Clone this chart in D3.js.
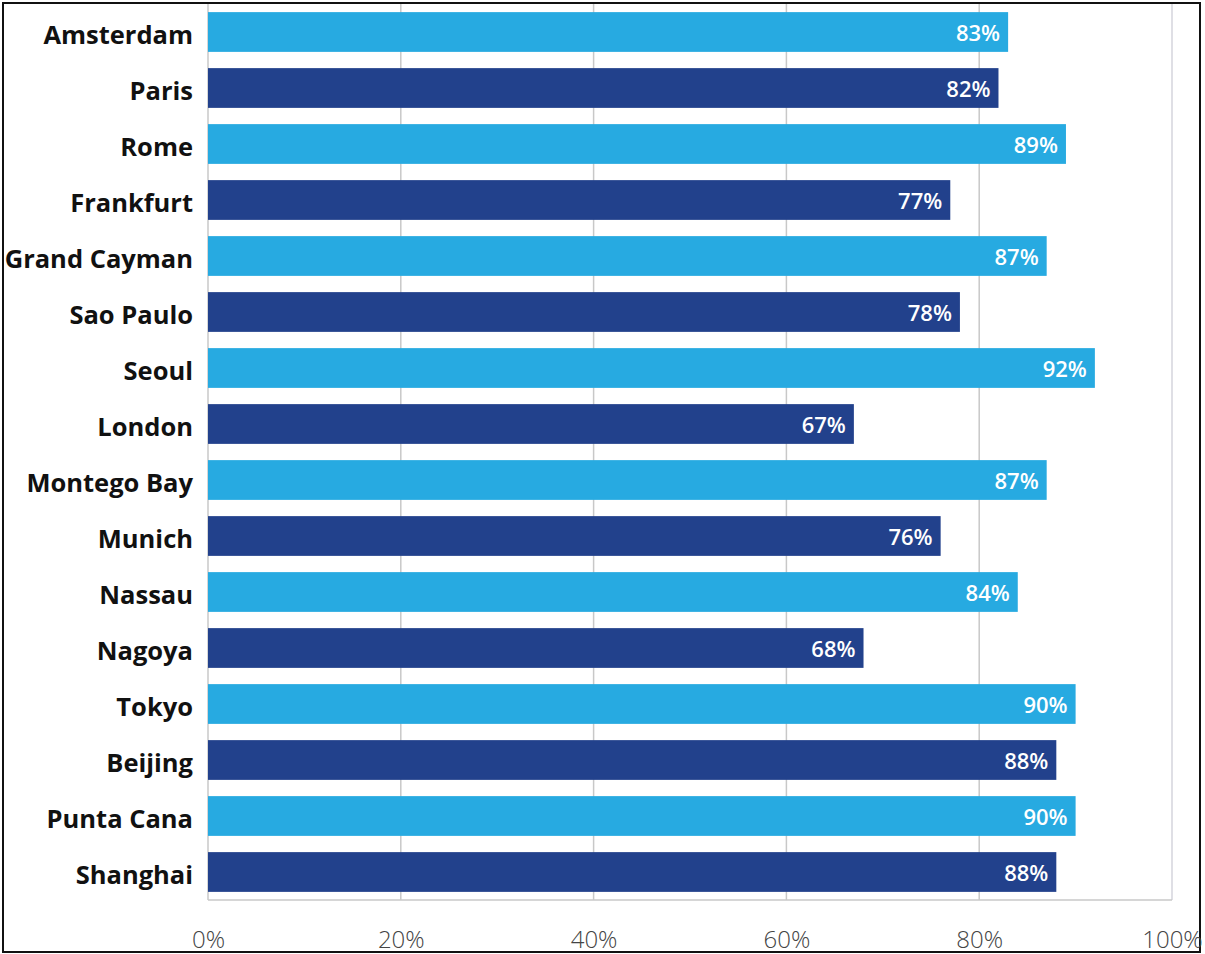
<!DOCTYPE html>
<html>
<head>
<meta charset="utf-8">
<script src="https://cdn.jsdelivr.net/npm/d3@7"></script>
<style>
  html, body { margin: 0; padding: 0; background: #fff; }
  svg { display: block; }
</style>
</head>
<body>
<svg id="chart" width="1205" height="954"></svg>
<script>
// Share of respondents per city
const cities = ["Amsterdam", "Paris", "Rome", "Frankfurt", "Grand Cayman", "Sao Paulo",
  "Seoul", "London", "Montego Bay", "Munich", "Nassau", "Nagoya", "Tokyo", "Beijing",
  "Punta Cana", "Shanghai"];
const values = [83, 82, 89, 77, 87, 78, 92, 67, 87, 76, 84, 68, 90, 88, 90, 88];
const xTicks = [0, 20, 40, 60, 80, 100];
const palette = ["#27aae1", "#22418c"];

const svg = d3.select("#chart");
const W = 1205, H = 954;
const margin = { top: 4, right: 33, bottom: 54, left: 208 };
const FONT = "'Open Sans', sans-serif";

// outer frame
svg.append("rect")
  .attr("x", 3).attr("y", 3)
  .attr("width", 1197).attr("height", 949)
  .attr("fill", "none").attr("stroke", "#111").attr("stroke-width", 2);

const x = d3.scaleLinear().domain([0, 100]).range([margin.left, W - margin.right]);
const y = d3.scaleBand().domain(cities).range([margin.top, H - margin.bottom]).paddingInner(0.29).paddingOuter(0.145);

// vertical gridlines
svg.append("g").selectAll("line").data(xTicks).join("line")
  .attr("x1", d => x(d)).attr("x2", d => x(d))
  .attr("y1", margin.top).attr("y2", H - margin.bottom)
  .attr("stroke", d => d === 100 ? "#d4d4dc" : "#c8c8c8")
  .attr("stroke-width", 1.5);

// bottom baseline
svg.append("line")
  .attr("x1", x(0)).attr("x2", x(100))
  .attr("y1", H - margin.bottom).attr("y2", H - margin.bottom)
  .attr("stroke", "#c8c8c8").attr("stroke-width", 1.5);

// bars
svg.append("g").selectAll("rect").data(cities).join("rect")
  .attr("x", x(0))
  .attr("y", d => y(d))
  .attr("width", (d, i) => x(values[i]) - x(0))
  .attr("height", y.bandwidth())
  .attr("fill", (d, i) => palette[i % 2]);

// value labels inside bar ends
svg.append("g").selectAll("text").data(cities).join("text")
  .attr("x", (d, i) => x(values[i]) - 8)
  .attr("y", d => y(d) + y.bandwidth() / 2 + 9)
  .attr("text-anchor", "end")
  .attr("fill", "#fff")
  .attr("font-family", FONT)
  .attr("font-weight", 600)
  .attr("font-size", 22)
  .text((d, i) => values[i] + "%");

// category labels
svg.append("g").selectAll("text").data(cities).join("text")
  .attr("x", margin.left - 15)
  .attr("y", d => y(d) + y.bandwidth() / 2 + 12)
  .attr("text-anchor", "end")
  .attr("fill", "#111")
  .attr("font-family", FONT)
  .attr("font-weight", 700)
  .attr("font-size", 25.5)
  .text(d => d);

// x axis tick labels
const xAxis = d3.axisBottom(x).tickValues(xTicks).tickFormat(d => d + "%").tickSize(0).tickPadding(0);
const gx = svg.append("g").attr("transform", `translate(0, ${H - 6})`).call(xAxis);
gx.select(".domain").remove();
gx.selectAll("text")
  .attr("dy", 0)
  .attr("y", 0)
  .attr("fill", "#444")
  .attr("font-family", FONT)
  .attr("font-weight", 300)
  .attr("font-size", 24);
</script>
</body>
</html>
